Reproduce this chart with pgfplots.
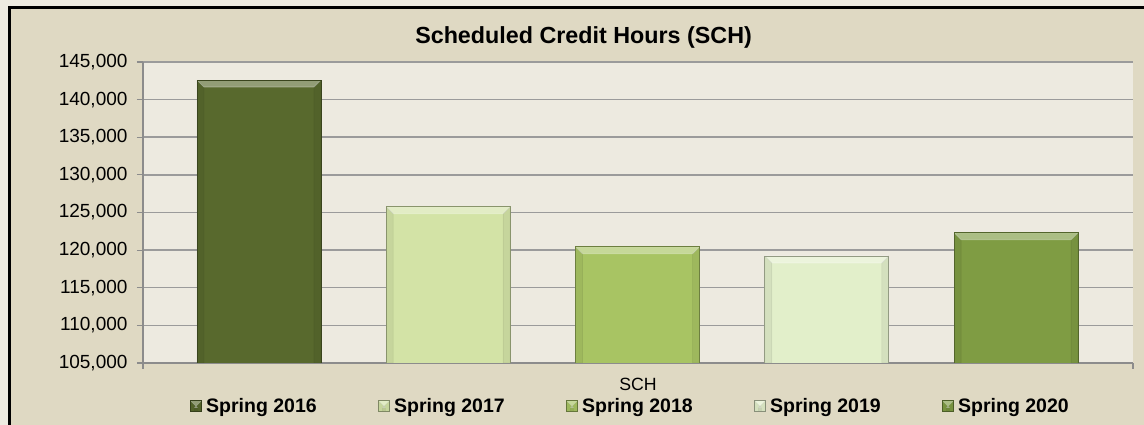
\documentclass[border=0pt]{standalone}
\usepackage{fontspec}
\setmainfont{Liberation Sans}
\usepackage{pgfplots}
\pgfplotsset{compat=1.18}
\definecolor{outerbg}{HTML}{EEEBE1}
\definecolor{chartbg}{HTML}{DFD9C3}
\definecolor{plotbg}{HTML}{EDEAE0}
\definecolor{gridc}{HTML}{9B9B9B}
\definecolor{axisc}{HTML}{8C8C8C}
\definecolor{cA}{HTML}{58692D}
\definecolor{cB}{HTML}{D3E3A6}
\definecolor{cC}{HTML}{A8C463}
\definecolor{cD}{HTML}{E2EFCA}
\definecolor{cE}{HTML}{7F9C43}
\tikzset{bevel/.style={path picture={
  \fill[path picture={},white,opacity=0.35] (path picture bounding box.north west) -- (path picture bounding box.north east) -- ([xshift=-7pt,yshift=-7pt]path picture bounding box.north east) -- ([xshift=7pt,yshift=-7pt]path picture bounding box.north west) -- cycle;
  \fill[path picture={},black,opacity=0.06] (path picture bounding box.north west) -- ([xshift=7pt,yshift=-7pt]path picture bounding box.north west) -- ([xshift=7pt]path picture bounding box.south west) -- (path picture bounding box.south west) -- cycle;
  \fill[path picture={},black,opacity=0.06] (path picture bounding box.north east) -- ([xshift=-7pt,yshift=-7pt]path picture bounding box.north east) -- ([xshift=-7pt]path picture bounding box.south east) -- (path picture bounding box.south east) -- cycle;
}}}
\newcommand{\legbox}[1]{\makebox[172.5pt][l]{\hspace{2.5pt}#1}}
\begin{document}
\begin{tikzpicture}[x=1pt,y=1pt]
\fill[outerbg] (0,0) rectangle (1144,425);
\filldraw[fill=chartbg, draw=black, line width=3pt] (9.5,-20) rectangle (1170,417.5);
\begin{axis}[
  at={(143pt,62pt)}, anchor=south west,
  scale only axis, width=990pt, height=301pt,
  xmin=-0.6125, xmax=4.6175, ymin=105000, ymax=145000,
  ytick={105000,110000,115000,120000,125000,130000,135000,140000,145000},
  xtick={-0.6125,4.6175}, xticklabels={,},
  scaled y ticks=false,
  yticklabel style={/pgf/number format/.cd, fixed, 1000 sep={,}, assume math mode=true, /tikz/.cd, xshift=-6pt},
  tick label style={font=\fontsize{19}{21}\selectfont, text=black},
  axis lines=left,
  axis line style={-, draw=axisc, line width=1.2pt},
  tick style={draw=axisc, line width=1.2pt},
  tick align=outside, major tick length=6pt,
  ymajorgrids, grid style={draw=gridc, line width=1.5pt},
  axis background/.style={fill=plotbg},
  every axis plot/.append style={ybar, bar width=0.655, bar shift=0pt},
  title={Scheduled Credit Hours (SCH)},
  title style={font=\fontsize{23.3}{26}\selectfont\bfseries, at={(rel axis cs:0.445,1.0405)}, anchor=base},
  xlabel={SCH},
  xlabel style={font=\fontsize{17.7}{20}\selectfont, at={(rel axis cs:0.5,-0.0924)}, anchor=base},
  legend columns=5,
  legend style={draw=none, fill=none, inner sep=0pt, at={(rel axis cs:0.0475,-0.1435)}, anchor=west,
    font=\fontsize{19.5}{22}\selectfont\bfseries, /tikz/column sep=0pt, cells={anchor=west}},
]
\addplot[fill=cA, draw=cA!65!black, line width=0.8pt, bevel,
  legend image code/.code={\filldraw[fill=cA, draw=cA!60!black, line width=0.5pt] (0pt,-5.5pt) rectangle (11pt,5.5pt);}]
  coordinates {(0,142600)};
\addlegendentry{\legbox{Spring 2016}}
\addplot[fill=cB, draw=cB!65!black, line width=0.8pt, bevel,
  legend image code/.code={\filldraw[fill=cB, draw=cB!60!black, line width=0.5pt] (0pt,-5.5pt) rectangle (11pt,5.5pt);}]
  coordinates {(1,125770)};
\addlegendentry{\legbox{Spring 2017}}
\addplot[fill=cC, draw=cC!65!black, line width=0.8pt, bevel,
  legend image code/.code={\filldraw[fill=cC, draw=cC!60!black, line width=0.5pt] (0pt,-5.5pt) rectangle (11pt,5.5pt);}]
  coordinates {(2,120450)};
\addlegendentry{\legbox{Spring 2018}}
\addplot[fill=cD, draw=cD!65!black, line width=0.8pt, bevel,
  legend image code/.code={\filldraw[fill=cD, draw=cD!60!black, line width=0.5pt] (0pt,-5.5pt) rectangle (11pt,5.5pt);}]
  coordinates {(3,119220)};
\addlegendentry{\legbox{Spring 2019}}
\addplot[fill=cE, draw=cE!65!black, line width=0.8pt, bevel,
  legend image code/.code={\filldraw[fill=cE, draw=cE!60!black, line width=0.5pt] (0pt,-5.5pt) rectangle (11pt,5.5pt);}]
  coordinates {(4,122310)};
\addlegendentry{\legbox{Spring 2020}}
\end{axis}
\pgfresetboundingbox
\useasboundingbox (0,0) rectangle (1144,425);
\end{tikzpicture}
\end{document}
